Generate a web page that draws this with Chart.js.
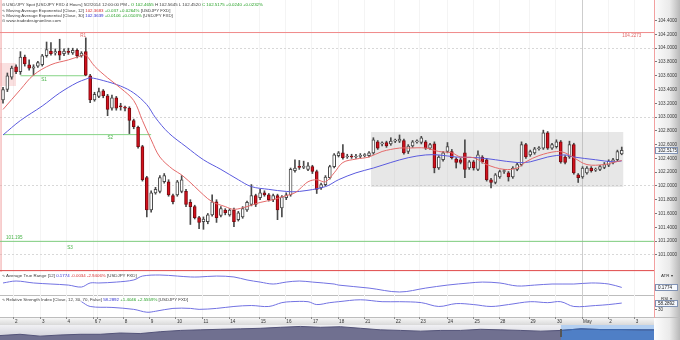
<!DOCTYPE html>
<html><head><meta charset="utf-8">
<script src="https://cdn.jsdelivr.net/npm/chart.js@4.4.1/dist/chart.umd.min.js"></script>
<style>
html,body{margin:0;padding:0;background:#fff}
#wrap{position:relative;width:680px;height:340px;overflow:hidden;background:#fff}
canvas{position:absolute;left:0}
.lg{position:absolute;left:2px;font-family:'Liberation Sans',Arial,sans-serif;font-size:4.4px;line-height:5px;color:#3a3a3a;white-space:nowrap}
.g{color:#1f9e1f}.r{color:#d83030}.b{color:#2c2cd0}
.ax{position:absolute;font-family:'Liberation Sans',Arial,sans-serif;font-size:4.4px;color:#333;white-space:nowrap}
</style></head><body>
<div id="wrap">
<canvas id="cMain" width="680" height="272" style="top:0"></canvas>
<canvas id="cAtr" width="680" height="23" style="top:272px"></canvas>
<canvas id="cRsi" width="680" height="30" style="top:295px"></canvas>
<canvas id="cNav" width="680" height="15" style="top:325px"></canvas>
<div class="lg" style="top:2.4px">⊙ USD/JPY Spot [USDJPY FXD  4 Hours] 5/2/2014 12:00:00 PM - <span class="g">O 102.4655</span> H 102.5645 L 102.4520 <span class="g">C 102.5175 +0.0240 +0.0232%</span></div>
<div class="lg" style="top:7.7px">∿ Moving Average Exponential [Close, 12] <span class="r">102.3683</span> <span class="g">+0.037 +0.0264%</span> [USDJPY FXD]</div>
<div class="lg" style="top:13px">∿ Moving Average Exponential [Close, 30] <span class="b">102.3639</span> <span class="g">+0.0106 +0.0103%</span> [USDJPY FXD]</div>
<div class="lg" style="top:18.4px">⊙ www.tradedesignonline.com</div>
<div class="lg" style="top:272.6px">∿ Average True Range [12] <span class="b">0.1774</span> <span class="r">-0.0034 -2.9406%</span> [USDJPY FXD]</div>
<div class="lg" style="top:296.6px">∿ Relative Strength Index [Close, 12, 30, 70, False] <span class="b">58.2892</span> <span class="g">+1.4046 +2.5559%</span> [USDJPY FXD]</div>
<div class="ax" style="left:661px;top:272.6px">ATR ▾</div>
<div class="ax" style="left:661px;top:295.8px">RSI ▾</div>
</div>
<script>
// ---------------- DATA ----------------
const opens = [103.25,103.40,103.58,103.73,103.66,103.87,103.76,103.71,103.74,103.76,
103.89,103.96,103.93,103.96,103.92,103.95,103.93,103.97,103.89,103.95,
103.60,103.25,103.30,103.38,103.31,103.13,103.28,103.16,103.14,103.13,
102.95,102.85,102.57,102.12,101.65,101.90,101.92,102.06,102.06,101.86,
101.87,101.92,101.92,101.76,101.70,101.54,101.48,101.48,101.58,101.77,
101.57,101.65,101.58,101.65,101.51,101.55,101.65,101.73,101.86,101.83,
101.90,101.87,101.80,101.86,101.68,101.83,101.87,102.22,102.28,102.27,
102.24,102.28,102.21,101.97,102.02,102.12,102.28,102.44,102.48,102.42,
102.43,102.42,102.43,102.44,102.44,102.48,102.64,102.61,102.63,102.61,
102.65,102.65,102.66,102.50,102.58,102.64,102.63,102.64,102.55,102.61,
102.26,102.38,102.50,102.50,102.39,102.38,102.48,102.26,102.35,102.24,
102.42,102.38,102.09,102.05,102.13,102.21,102.19,102.13,102.24,102.31,
102.60,102.45,102.48,102.54,102.55,102.77,102.55,102.57,102.64,102.42,
102.42,102.60,102.16,102.13,102.19,102.26,102.23,102.24,102.27,102.30,
102.34,102.38,102.4655];
const highs = [103.43,103.64,103.74,103.76,103.95,103.90,103.83,103.76,103.81,103.91,
104.09,104.08,103.99,104.13,103.99,104.00,104.00,103.99,103.95,104.15,
103.62,103.36,103.42,103.40,103.33,103.32,103.30,103.20,103.16,103.15,
102.97,102.87,102.59,102.14,101.93,101.98,102.15,102.18,102.09,101.88,
102.08,102.15,101.95,101.80,101.72,101.56,101.55,101.60,101.87,101.80,
101.70,101.67,101.67,101.68,101.63,101.70,101.78,102.02,101.88,101.95,
101.93,101.89,101.88,101.88,101.86,101.90,102.26,102.38,102.37,102.36,
102.34,102.30,102.23,102.04,102.15,102.30,102.47,102.50,102.60,102.46,
102.46,102.46,102.47,102.47,102.50,102.70,102.66,102.64,102.65,102.70,
102.68,102.74,102.68,102.60,102.66,102.67,102.72,102.66,102.62,102.64,
102.44,102.50,102.63,102.53,102.41,102.40,102.67,102.37,102.37,102.51,
102.44,102.40,102.11,102.18,102.23,102.24,102.21,102.28,102.33,102.64,
102.62,102.52,102.56,102.57,102.81,102.79,102.62,102.67,102.66,102.44,
102.65,102.62,102.18,102.28,102.28,102.28,102.26,102.30,102.34,102.38,
102.40,102.52,102.5645];
const lows = [103.20,103.37,103.55,103.63,103.62,103.74,103.68,103.61,103.72,103.74,
103.87,103.90,103.90,103.83,103.89,103.91,103.91,103.86,103.87,103.60,
103.21,103.23,103.28,103.28,103.02,103.10,103.10,103.10,103.09,102.76,
102.83,102.55,102.07,101.55,101.62,101.88,101.90,102.04,101.85,101.74,
101.85,101.90,101.70,101.44,101.52,101.38,101.37,101.45,101.56,101.47,
101.55,101.58,101.56,101.41,101.49,101.53,101.63,101.71,101.70,101.80,
101.85,101.78,101.77,101.51,101.55,101.80,101.85,102.20,102.24,102.25,
102.22,102.18,101.89,101.95,102.00,102.10,102.26,102.42,102.39,102.40,
102.40,102.40,102.41,102.42,102.42,102.46,102.53,102.58,102.56,102.59,
102.63,102.63,102.46,102.47,102.56,102.62,102.61,102.53,102.53,102.19,
102.24,102.36,102.48,102.39,102.26,102.32,102.12,102.24,102.23,102.22,
102.33,102.07,101.97,102.03,102.11,102.18,102.07,102.11,102.22,102.29,
102.40,102.43,102.46,102.52,102.53,102.53,102.53,102.55,102.33,102.32,
102.40,102.17,102.05,102.11,102.17,102.20,102.21,102.22,102.25,102.28,
102.32,102.36,102.4520];
const closes = [103.40,103.60,103.71,103.66,103.87,103.77,103.71,103.73,103.79,103.89,
103.98,103.92,103.95,103.90,103.96,103.94,103.97,103.89,103.93,103.61,
103.25,103.33,103.37,103.31,103.11,103.28,103.13,103.15,103.13,102.95,
102.86,102.57,102.09,101.65,101.90,101.95,102.12,102.15,101.87,101.77,
102.06,102.09,101.73,101.70,101.54,101.47,101.52,101.58,101.77,101.54,
101.67,101.61,101.65,101.48,101.61,101.67,101.76,101.86,101.73,101.90,
101.87,101.80,101.86,101.65,101.84,101.87,102.24,102.26,102.27,102.28,
102.29,102.21,101.95,102.02,102.13,102.28,102.45,102.48,102.41,102.43,
102.42,102.43,102.44,102.44,102.48,102.67,102.55,102.62,102.58,102.65,
102.66,102.68,102.48,102.58,102.64,102.64,102.70,102.55,102.60,102.26,
102.42,102.48,102.57,102.41,102.34,102.34,102.24,102.35,102.26,102.45,
102.35,102.09,102.05,102.16,102.21,102.21,102.13,102.26,102.31,102.60,
102.42,102.50,102.54,102.54,102.77,102.55,102.60,102.64,102.35,102.34,
102.60,102.19,102.12,102.26,102.26,102.22,102.24,102.28,102.31,102.36,
102.38,102.50,102.5175];

const ema12Idx = [0,4,7,11,15,18,19,21,24,27,30,32,34,36,39,41,44,46,48,51,53,56,59,62,64,67,68,70,72,74,76,78,81,84,87,91,93,97,100,103,105,108,111,115,118,120,123,127,129,131,134,138,140,142];
const ema12Vals = [103.11,103.40,103.61,103.76,103.83,103.89,103.90,103.74,103.57,103.42,103.24,102.95,102.67,102.42,102.24,102.16,101.99,101.87,101.77,101.70,101.66,101.70,101.76,101.80,101.84,101.90,101.95,102.06,102.09,102.06,102.19,102.34,102.39,102.42,102.50,102.55,102.55,102.55,102.50,102.48,102.42,102.41,102.31,102.24,102.26,102.35,102.44,102.50,102.48,102.41,102.31,102.31,102.34,102.3683];
const ema30Idx = [0,4,9,13,17,19,20,23,27,30,33,35,38,42,46,50,54,57,61,65,68,74,77,81,85,89,93,97,100,104,109,113,118,121,125,129,131,136,140,142];
const ema30Vals = [102.74,102.95,103.16,103.35,103.50,103.55,103.57,103.53,103.45,103.35,103.18,102.99,102.77,102.57,102.38,102.24,102.09,101.99,101.95,101.92,101.92,101.99,102.09,102.19,102.26,102.34,102.41,102.45,102.45,102.42,102.41,102.38,102.34,102.35,102.42,102.45,102.42,102.38,102.35,102.3639];

const atrIdx = [0,3,7,11,15,18,20,22,26,30,32,36,40,43,45,49,53,56,59,62,65,68,71,76,77,84,91,97,102,107,110,114,118,122,126,131,135,139,142];
const atrVals = [0.207,0.220,0.207,0.200,0.193,0.180,0.207,0.207,0.213,0.227,0.253,0.260,0.253,0.247,0.247,0.253,0.247,0.227,0.213,0.200,0.213,0.220,0.213,0.200,0.193,0.173,0.147,0.173,0.193,0.207,0.213,0.207,0.187,0.193,0.200,0.200,0.207,0.200,0.1774];

const rsiIdx = [18,20,25,30,33,35,39,43,45,49,53,57,61,64,66,70,72,75,77,82,87,91,96,100,104,108,112,116,121,125,128,131,136,139,142];
const rsiVals = [64,44,40,32,20,24,36,36,32,36,44,48,44,60,64,64,52,60,64,72,64,64,60,44,56,52,44,52,64,60,64,44,48,52,58.2892];

const dayTickIdx = [2.5,8.7,14.6,20.8,21.7,27.7,33.7,39.7,45.8,51.9,58.9,64.8,70.9,76.9,82.9,89.9,95.6,101.9,108,113.9,120.8,126.9,132.9,138.9,145];
const dayLabels = ['2','3','4','6','7','8','9','10','11','14','15','16','17','18','21','22','23','24','25','28','29','30','May','2','3'];
const yTickVals = [101.0,101.2,101.4,101.6,101.8,102.0,102.2,102.4,102.6,102.8,103.0,103.2,103.4,103.6,103.8,104.0,104.2,104.4];

const R1_LEVEL = 104.2273, S1_LEVEL = 103.60, S2_LEVEL = 102.745, S3_LEVEL = 101.195, LOW_RED_LEVEL = 100.77;
const S1_FROM = 4, S1_TO = 19, S2_FROM = 0, S2_TO = 34;
const boxTop = 102.783, boxBottom = 101.985, boxFrom = 84.4, boxTo = 142.4;
const pinkTop = 103.785, pinkBottom = 103.451, pinkFrom = -0.7, pinkTo = 3.0;
const markerIdx = -0.45;

const navIdx = [0,1,2,3,4,5,6,7,8,9,10,11,12,13,14,15,16,17,18,19,20,21,22,23,24,25,26,27,28,29,30,31,32,32.65];
const navVals = [98.1,99.0,97.7,98.5,99.0,99.0,99.9,99.5,100.8,101.7,102.1,102.5,102.8,103.2,103.9,104.5,103.9,104.3,103.2,102.1,101.7,101.2,101.7,101.7,102.5,102.1,101.7,101.2,101.7,102.8,102.3,102.3,102.1,102.1];
const navWinStart = 28;

// ---------------- SETUP ----------------
Chart.defaults.font.family = "'Liberation Sans', Arial, sans-serif";
const X_MIN = -0.69, X_MAX = 149.4;
const monthTick = dayTickIdx[dayLabels.indexOf('May')];
const FONT = "'Liberation Sans', Arial, sans-serif";

const yFit = s => { s.width = 26; s.paddingTop = 0; s.paddingBottom = 0; };
const xFit = h => s => { s.height = h; s.paddingLeft = 0; s.paddingRight = 0; };

function opts(scales){
  return {responsive:false, animation:false, devicePixelRatio:1, events:[],
    layout:{padding:0},
    plugins:{legend:{display:false}, tooltip:{enabled:false}, filler:{drawTime:'beforeDatasetsDraw'}},
    scales};
}
function xAxis(h, labels){
  return {type:'linear', min:X_MIN, max:X_MAX, offset:false, position:'bottom',
    afterBuildTicks: s => { s.ticks = dayTickIdx.map(v => ({value:v})); },
    ticks: labels ? {autoSkip:false, maxRotation:0, minRotation:0, align:'start', labelOffset:1, padding:0,
              font:{size:4.6}, color:'#333', callback:(v,i)=>dayLabels[i]} : {display:false},
    grid:{offset:false, color: c => (c.tick && c.tick.value === monthTick) ? '#cdcdcd' : '#f4f4f4',
          drawTicks: !!labels, tickLength:2, tickColor:'#8a8a8a'},
    border:{display:false},
    afterFit: xFit(h)};
}
const axisBg = {id:'axisBg', beforeDraw(c){
  const {ctx, chartArea:a} = c;
  const g = ctx.createLinearGradient(a.right,0,c.width,0);
  g.addColorStop(0,'#fdfdfd'); g.addColorStop(0.6,'#eaeaea'); g.addColorStop(1,'#b8b8b8');
  ctx.save(); ctx.fillStyle = g; ctx.fillRect(a.right,0,c.width-a.right,c.height); ctx.restore();
}};
function valueBox(id, value, text){
  return {id, afterDraw(c){
    const {ctx, chartArea:a} = c;
    const y = Math.round(c.scales.y.getPixelForValue(value));
    ctx.save();
    ctx.fillStyle = '#f6f9fe'; ctx.fillRect(a.right+1, y-3, c.width-a.right-3, 7);
    ctx.strokeStyle = '#8092b4'; ctx.lineWidth = 1; ctx.strokeRect(a.right+1.5, y-2.5, c.width-a.right-4, 6);
    ctx.fillStyle = '#222'; ctx.font = "4.6px " + FONT; ctx.textBaseline = 'middle';
    ctx.fillText(text, a.right+4, y+0.5);
    ctx.restore();
  }};
}
function hLine(y, x0, x1, color){
  return {type:'line', data:[{x:x0,y},{x:x1,y}], borderColor:color, borderWidth:1, pointRadius:0, fill:false, order:6};
}
function rect(x0, x1, top, bottom, color){
  return [
    {type:'line', data:[{x:x0,y:top},{x:x1,y:top}], borderColor:'rgba(0,0,0,0)', borderWidth:1, pointRadius:0, fill:'+1', backgroundColor:color, order:9},
    {type:'line', data:[{x:x0,y:bottom},{x:x1,y:bottom}], borderColor:'rgba(0,0,0,0)', borderWidth:1, pointRadius:0, fill:false, order:9}
  ];
}

// ---------------- MAIN ----------------
const wickData = closes.map((c,i) => ({x:i, y:[lows[i], highs[i]]}));
const bodyData = closes.map((c,i) => ({x:i, y:[Math.min(opens[i],c), Math.max(opens[i],c)]}));
const bodyFill = closes.map((c,i) => c >= opens[i] ? '#ffffff' : '#d3101c');
const bodyEdge = closes.map((c,i) => c >= opens[i] ? '#4a4a4a' : '#7a0a10');

const priceLabels = [
  {t:'R1', x:18.4, y:R1_LEVEL, c:'#e06a6a', b:'top', dy:0.5},
  {t:R1_LEVEL.toFixed(4), x:144.3, y:R1_LEVEL, c:'#e06a6a', b:'top', dy:0.5},
  {t:'S1', x:9.4, y:S1_LEVEL, c:'#47b347', b:'top', dy:2},
  {t:'S2', x:24.6, y:S2_LEVEL, c:'#47b347', b:'top', dy:1},
  {t:'S3', x:15.4, y:S3_LEVEL, c:'#47b347', b:'top', dy:4},
  {t:S3_LEVEL.toFixed(3), x:2.6, y:S3_LEVEL, c:'#47b347', b:'bottom', dy:-1}
];
const labelPlugin = {id:'lbl', afterDatasetsDraw(c){
  const {ctx} = c; ctx.save(); ctx.font = "4.6px " + FONT; ctx.textAlign = 'center';
  priceLabels.forEach(l => {
    ctx.fillStyle = l.c; ctx.textBaseline = l.b;
    ctx.fillText(l.t, c.scales.x.getPixelForValue(l.x), c.scales.y.getPixelForValue(l.y) + l.dy);
  });
  ctx.restore();
}};

new Chart(document.getElementById('cMain'), {
  type:'bar',
  data:{datasets:[
    {type:'line', data:ema12Idx.map((x,i)=>({x, y:ema12Vals[i]})), borderColor:'#e46a6a', borderWidth:1, pointRadius:0, tension:0.35, fill:false, order:1},
    {type:'line', data:ema30Idx.map((x,i)=>({x, y:ema30Vals[i]})), borderColor:'#5a5ade', borderWidth:1, pointRadius:0, tension:0.35, fill:false, order:2},
    {type:'bar', data:bodyData, backgroundColor:bodyFill, borderColor:bodyEdge, borderWidth:1, borderSkipped:false, barThickness:3, minBarLength:1, grouped:false, order:3},
    {type:'bar', data:wickData, backgroundColor:'#4a4a4a', borderWidth:0, barThickness:1, grouped:false, order:4},
    hLine(R1_LEVEL, X_MIN, X_MAX, '#f08a8a'),
    hLine(LOW_RED_LEVEL, X_MIN, X_MAX, '#e04848'),
    hLine(S1_LEVEL, S1_FROM, S1_TO, '#86d486'),
    hLine(S2_LEVEL, S2_FROM, S2_TO, '#86d486'),
    hLine(S3_LEVEL, X_MIN, X_MAX, '#7ccc7c'),
    {type:'line', data:[{x:markerIdx,y:100.7},{x:markerIdx,y:104.7}], borderColor:'#f0a0a0', borderWidth:1, pointRadius:0, fill:false, order:6},
    ...rect(boxFrom, boxTo, boxTop, boxBottom, 'rgba(175,175,175,0.3)'),
    ...rect(pinkFrom, pinkTo, pinkTop, pinkBottom, 'rgba(240,160,160,0.32)')
  ]},
  options: opts({
    x: xAxis(0, false),
    y: {type:'linear', position:'right', min:100.75, max:104.70, beginAtZero:false,
        afterBuildTicks: s => { s.ticks = yTickVals.map(v => ({value:v})); },
        ticks:{font:{size:4.6}, color:'#3a3a3a', padding:1, autoSkip:false, callback: v => Number(v).toFixed(4)},
        grid:{color: c => (c.tick && Math.abs(c.tick.value - Math.round(c.tick.value)) < 1e-6) ? '#d8d8d8' : 'rgba(0,0,0,0)', tickLength:3, tickColor:'#7a7a7a'},
        border:{display:true, color:'#f2a0a0', dash:[2,2]},
        afterFit: yFit}
  }),
  plugins:[axisBg, labelPlugin, valueBox('mainBox', closes[closes.length-1], closes[closes.length-1].toFixed(4))]
});

// ---------------- ATR ----------------
new Chart(document.getElementById('cAtr'), {
  type:'line',
  data:{datasets:[{data:atrIdx.map((x,i)=>({x, y:atrVals[i]})), borderColor:'#7272e2', borderWidth:1, pointRadius:0, tension:0.35, fill:false}]},
  options: opts({
    x: xAxis(0, false),
    y: {type:'linear', position:'right', min:0.127, max:0.28, ticks:{display:false}, grid:{display:false},
        border:{display:true, color:'#f2a0a0', dash:[2,2]}, afterFit: yFit}
  }),
  plugins:[axisBg, valueBox('atrBox', atrVals[atrVals.length-1], atrVals[atrVals.length-1].toFixed(4))]
});

// ---------------- RSI + time axis ----------------
const rsiDeco = {id:'rsiDeco', beforeDraw(c){
  const {ctx, chartArea:a} = c;
  const g = ctx.createLinearGradient(0,a.bottom,0,c.height);
  g.addColorStop(0,'#fbfbfb'); g.addColorStop(1,'#d9d9d9');
  ctx.save(); ctx.fillStyle = g; ctx.fillRect(0,a.bottom,a.right,c.height-a.bottom);
  ctx.strokeStyle = '#bdbdbd'; ctx.lineWidth = 1;
  ctx.beginPath(); ctx.moveTo(0,a.top+0.5); ctx.lineTo(a.right,a.top+0.5);
  ctx.moveTo(0,a.bottom+0.5); ctx.lineTo(c.width,a.bottom+0.5); ctx.stroke(); ctx.restore();
}};
new Chart(document.getElementById('cRsi'), {
  type:'line',
  data:{datasets:[{data:rsiIdx.map((x,i)=>({x, y:rsiVals[i]})), borderColor:'#7272e2', borderWidth:1, pointRadius:0, tension:0.35, fill:false}]},
  options: opts({
    x: xAxis(8, true),
    y: {type:'linear', position:'right', min:0, max:92,
        afterBuildTicks: s => { s.ticks = [{value:30}]; },
        ticks:{font:{size:4.6}, color:'#333', padding:1},
        grid:{drawOnChartArea:false, tickLength:3, tickColor:'#7a7a7a'},
        border:{display:true, color:'#f2a0a0', dash:[2,2]}, afterFit: yFit}
  }),
  plugins:[axisBg, rsiDeco, valueBox('rsiBox', rsiVals[rsiVals.length-1], rsiVals[rsiVals.length-1].toFixed(4))]
});

// ---------------- NAVIGATOR ----------------
const navAll = navIdx.map((x,i)=>({x, y:navVals[i]}));
const navWin = navAll.filter(p => p.x >= navWinStart);
const navDeco = {id:'navDeco',
  beforeDraw(c){
    const {ctx, chartArea:a} = c;
    const g = ctx.createLinearGradient(0,a.top,0,a.bottom);
    g.addColorStop(0,'#f1f1f4'); g.addColorStop(1,'#c9c9d3');
    ctx.save(); ctx.fillStyle = g; ctx.fillRect(a.left,a.top,a.right-a.left,a.bottom-a.top);
    const wx = c.scales.x.getPixelForValue(navWinStart);
    ctx.fillStyle = '#b3cff1'; ctx.fillRect(wx,a.top,a.right-wx,a.bottom-a.top);
    ctx.restore();
  },
  afterDraw(c){
    const {ctx, chartArea:a} = c;
    const wx = Math.round(c.scales.x.getPixelForValue(navWinStart));
    ctx.save(); ctx.fillStyle = '#555'; ctx.fillRect(wx-1, a.top+4, 2, 8); ctx.restore();
  }
};
new Chart(document.getElementById('cNav'), {
  type:'line',
  data:{datasets:[
    {data:navWin, borderColor:'#3a69b2', backgroundColor:'#4f7fc6', fill:'start', borderWidth:1, pointRadius:0, order:1},
    {data:navAll, borderColor:'#545479', backgroundColor:'#707090', fill:'start', borderWidth:1, pointRadius:0, order:2}
  ]},
  options: opts({
    x: {type:'linear', min:0, max:navIdx[navIdx.length-1], display:false},
    y: {type:'linear', position:'right', min:95, max:105.5, ticks:{display:false}, grid:{display:false}, border:{display:false}, afterFit: yFit}
  }),
  plugins:[axisBg, navDeco]
});
</script>
</body></html>
